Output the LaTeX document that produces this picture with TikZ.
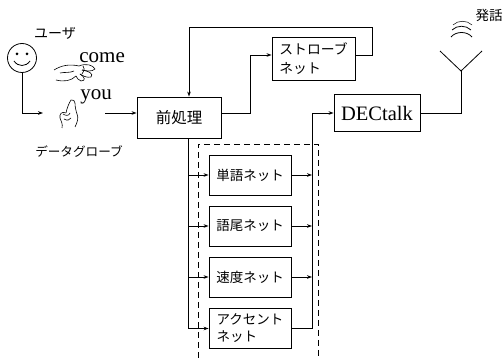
\documentclass[tikz,border=0pt]{standalone}
\usepackage{fontspec}
\setmainfont{Liberation Serif}
\newfontfamily\jpfont{Noto Sans CJK JP}
\usetikzlibrary{arrows.meta}
\begin{document}
\begin{tikzpicture}[x=1pt,y=-1pt,
  line width=0.8pt,
  arr/.style={-{Stealth[length=5pt,width=3.6pt]}},
  blk/.style={draw,line width=0.9pt,inner sep=0pt,align=left},
  netbox/.style={blk,minimum width=82pt,minimum height=40pt,
    font=\jpfont\fontsize{13.5}{17}\selectfont},
  jtxt/.style={inner sep=0pt,font=\jpfont\fontsize{#1}{#1}\selectfont},
  etxt/.style={inner sep=0pt,anchor=base west,font=\fontsize{21}{21}\selectfont}]
\useasboundingbox (0,0) rectangle (504,358);

% --- user, face and data glove ---
\node[circle,draw,minimum size=29pt,inner sep=0pt] (face) at (22,58) {};
\fill (17,54) circle (1.5pt) (27,54) circle (1.5pt);
\draw (14,61) .. controls (18,67) and (26,67) .. (30,61);
\node[jtxt=14] (user) at (55,33) {ユーザ};
\node[etxt] (come) at (79,63) {come};
\node[etxt] (you) at (80,100) {you};
\node[jtxt=12.6] (glove) at (79,152) {データグローブ};

% beckoning hand
\begin{scope}[line width=0.6pt]
\draw (54,70) .. controls (62,65) and (70,64) .. (79,66);
\draw (79,66) .. controls (86,63) and (93,65) .. (95,69) .. controls (92,72) and (86,71) .. (82,70);
\draw (82,70) .. controls (89,71) and (94,74) .. (91,77) .. controls (87,78) and (83,76) .. (80,74);
\draw (80,74) .. controls (85,77) and (86,81) .. (81,81) .. controls (78,80) and (77,78) .. (76,76);
\draw (56,80) .. controls (64,82) and (71,81) .. (76,76);
\draw (60,73) .. controls (65,72) and (70,73) .. (74,71);
\draw (83,66) .. controls (85,69) and (84,72) .. (82,74);
\end{scope}

% pointing hand
\begin{scope}[line width=0.6pt]
\draw (66,113) .. controls (67,108) and (69,103) .. (71,100) .. controls (73,99) and (75,101) .. (75,103) .. controls (75,107) and (76,111) .. (77,114);
\draw (77,114) .. controls (79,118) and (77,123) .. (75,127);
\draw (66,113) .. controls (62,111) and (59,114) .. (60,118) .. controls (61,121) and (63,124) .. (62,128);
\draw (63,114) .. controls (66,116) and (69,116) .. (70,113);
\draw (64,119) .. controls (67,121) and (70,120) .. (71,118);
\end{scope}

\coordinate (uin) at (43,113);
\draw[arr] (face.south) -- (face.south |- uin) -- (uin);

% --- preprocessing and strobe net ---
\node[blk,minimum width=84pt,minimum height=41pt,
  font=\jpfont\fontsize{15.5}{15.5}\selectfont] (pre) at (179,117.5) {前処理};
\coordinate (gin) at (105,113);
\draw[arr] (gin) -- (pre.west |- gin);

\node[blk,minimum width=83pt,minimum height=43pt,
  font=\jpfont\fontsize{13.8}{19}\selectfont] (strobe) at (313.5,58.5) {ストローブ\\ネット};
\coordinate (sy) at (250,55);
\coordinate (px) at (250,113);
\draw[arr] (pre.east |- px) -- (px) -- (sy) -- (strobe.west |- sy);
\coordinate (fbr) at (372,55);
\coordinate (fbt) at (372,27);
\coordinate (fbl) at (189,27);
\draw[arr] (strobe.east |- fbr) -- (fbr) -- (fbt) -- (fbl) -- (fbl |- pre.north);

% --- sub-networks ---
\node[netbox] (n1) at (250,175) {単語ネット};
\node[netbox] (n2) at (250,226) {語尾ネット};
\node[netbox] (n3) at (250,277) {速度ネット};
\node[netbox] (n4) at (250,328.5) {アクセント\\ネット};

\draw[dashed,dash pattern=on 6pt off 4pt] (198,358) -- (198,144) -- (318,144) -- (318,358);

\coordinate (bt) at (188,328.5);
\draw (pre.south -| bt) -- (bt);
\foreach \n in {n1,n2,n3,n4} \draw[arr] (bt |- \n) -- (\n.west);

% --- DECtalk and speech output ---
\node[blk,minimum width=86pt,minimum height=37pt,
  font=\fontsize{20.5}{20.5}\selectfont] (dec) at (377,113) {DECtalk};
\coordinate (ct) at (312,328.5);
\foreach \n in {n1,n2,n3} \draw[arr] (\n.east) -- (ct |- \n);
\draw[arr] (n4.east) -- (ct) -- (ct |- dec.west) -- (dec.west);

\coordinate (ant) at (461,71);
\coordinate (al) at (440,51);
\coordinate (ar) at (482,51);
\draw (dec.east) -- (dec.east -| ant) -- (ant);
\draw (al) -- (ant) -- (ar);
\draw (451,37) .. controls (456,31) and (467,31) .. (472,37);
\draw (452,30) .. controls (457,25) and (466,25) .. (471,30);
\draw[line width=0.5pt] (453,25) .. controls (458,20) and (467,20) .. (472,25);
\node[jtxt=13.5] (speech) at (489,15) {発話};
\end{tikzpicture}
\end{document}
